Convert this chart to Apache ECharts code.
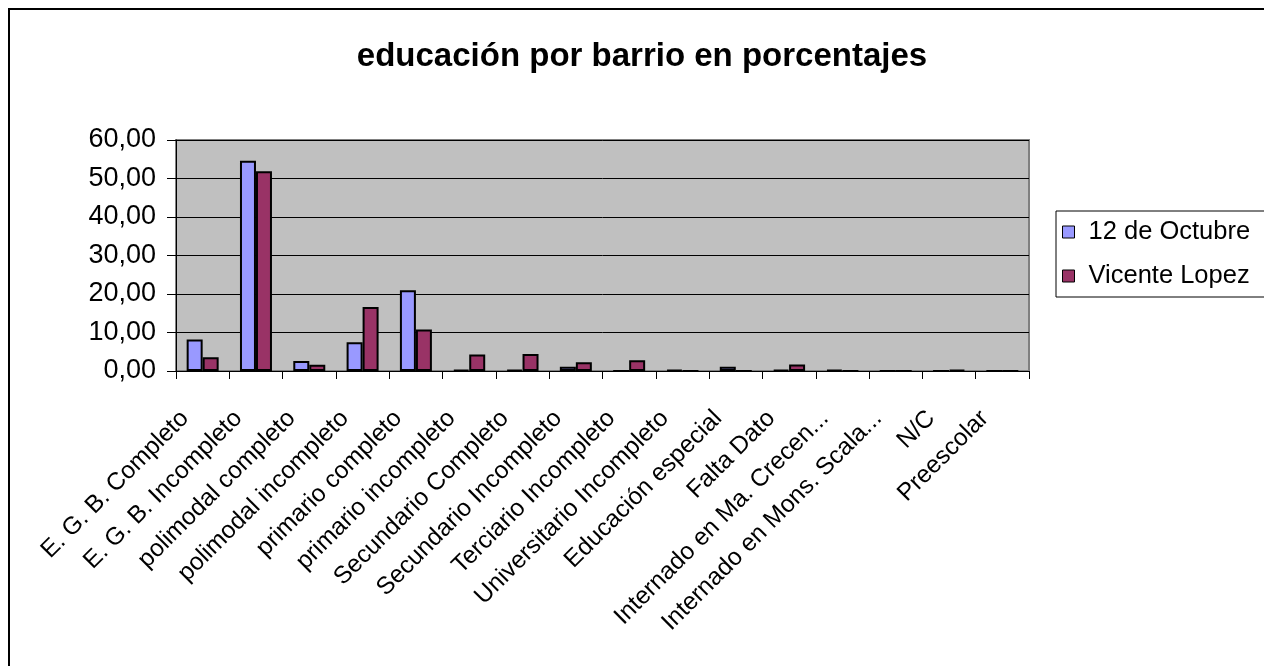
<!DOCTYPE html>
<html>
<head>
<meta charset="utf-8">
<script src="https://cdn.jsdelivr.net/npm/echarts@6/dist/echarts.min.js"></script>
<style>
  html, body { margin: 0; padding: 0; background: #fff; }
  #chart { width: 1264px; height: 666px; }
</style>
</head>
<body>
<div id="chart"></div>
<script>
// Nivel educativo por barrio, en porcentajes
const categories = [
  'E. G. B. Completo', 'E. G. B. Incompleto', 'polimodal completo', 'polimodal incompleto',
  'primario completo', 'primario incompleto', 'Secundario Completo', 'Secundario Incompleto',
  'Terciario Incompleto', 'Universitario Incompleto', 'Educación especial', 'Falta Dato',
  'Internado en Ma. Crecen...', 'Internado en Mons. Scala...', 'N/C', 'Preescolar'
];
const seriesNames = ['12 de Octubre', 'Vicente Lopez'];
const octubre = [8.2, 54.6, 2.6, 7.5, 21.0, 0.3, 0.3, 1.1, 0, 0.3, 1.1, 0.3, 0.3, 0, 0, 0];
const vicente = [3.6, 51.9, 1.6, 16.6, 10.8, 4.3, 4.4, 2.3, 2.8, 0, 0, 1.7, 0, 0, 0.3, 0];
const yTicks = { min: 0, max: 60, step: 10 };

const FONT = '"Liberation Sans", Arial, sans-serif';
const chart = echarts.init(document.getElementById('chart'), null, { renderer: 'canvas' });

chart.setOption({
  backgroundColor: '#ffffff',
  animation: false,
  graphic: [{
    type: 'rect',
    shape: { x: 9, y: 9, width: 1400, height: 800 },
    style: { fill: 'none', stroke: '#000', lineWidth: 2 },
    z: -1
  }],
  title: {
    text: 'educación por barrio en porcentajes',
    left: 637,
    textAlign: 'center',
    top: 35,
    textStyle: { fontFamily: FONT, fontSize: 33, fontWeight: 'bold', color: '#000' }
  },
  legend: {
    orient: 'vertical',
    left: 1056,
    top: 211,
    padding: [8, 40, 8, 6],
    itemGap: 18,
    itemWidth: 12,
    itemHeight: 12,
    icon: 'rect',
    borderColor: '#000',
    borderWidth: 1,
    backgroundColor: '#fff',
    itemStyle: { borderColor: '#000', borderWidth: 1 },
    textStyle: { fontFamily: FONT, fontSize: 25.5, color: '#000', padding: [0, 0, 0, 9], lineHeight: 26 },
    data: seriesNames
  },
  grid: {
    left: 176,
    top: 140,
    width: 853,
    height: 231,
    show: true,
    backgroundColor: '#c0c0c0',
    borderColor: '#808080',
    borderWidth: 2,
    containLabel: false
  },
  xAxis: {
    type: 'category',
    data: categories,
    axisLine: { lineStyle: { color: '#000', width: 1 } },
    axisTick: { show: true, alignWithLabel: false, length: 8, lineStyle: { color: '#000' } },
    axisLabel: {
      interval: 0,
      rotate: 45,
      margin: 26,
      padding: [0, 25, 0, 0],
      fontFamily: FONT,
      fontSize: 24.5,
      color: '#000'
    }
  },
  yAxis: {
    type: 'value',
    min: yTicks.min,
    max: yTicks.max,
    interval: yTicks.step,
    axisLine: { show: true, lineStyle: { color: '#000', width: 1 } },
    axisTick: { show: true, length: 9, lineStyle: { color: '#000' } },
    splitLine: { show: true, lineStyle: { color: '#000', width: 1 } },
    axisLabel: {
      margin: 20,
      fontFamily: FONT,
      fontSize: 27,
      color: '#000',
      formatter: v => v.toFixed(2).replace('.', ',')
    }
  },
  series: [
    {
      name: seriesNames[0],
      type: 'bar',
      data: octubre,
      barWidth: '30%',
      barGap: '0%',
      itemStyle: { color: '#9999ff', borderColor: '#000', borderWidth: 2 }
    },
    {
      name: seriesNames[1],
      type: 'bar',
      data: vicente,
      barWidth: '30%',
      barGap: '0%',
      itemStyle: { color: '#993366', borderColor: '#000', borderWidth: 2 }
    }
  ]
});
</script>
</body>
</html>
